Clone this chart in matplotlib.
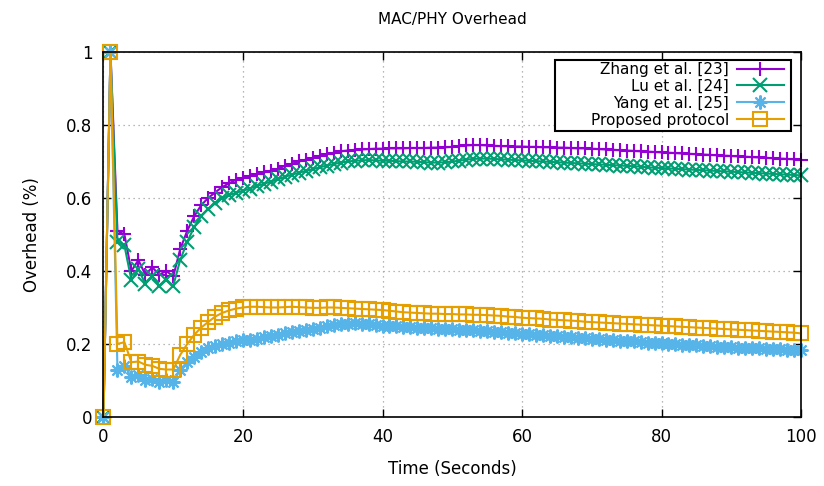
import matplotlib
matplotlib.use("Agg")
import matplotlib.pyplot as plt
from matplotlib.patches import Rectangle

# time axis, one sample per second
time_s = list(range(101))

zhang = [0, 1.0, 0.51, 0.50, 0.40, 0.43, 0.39, 0.41, 0.39, 0.40, 0.385,
         0.46, 0.51, 0.55, 0.58, 0.60, 0.615, 0.63, 0.64, 0.65, 0.655,
         0.66, 0.665, 0.67, 0.675, 0.68, 0.688, 0.694, 0.70, 0.705, 0.71,
         0.715, 0.72, 0.724, 0.728, 0.73, 0.732, 0.733, 0.734, 0.735, 0.735,
         0.736, 0.736, 0.736, 0.737, 0.737, 0.737, 0.738, 0.738, 0.739, 0.740,
         0.742, 0.744, 0.745, 0.745, 0.744, 0.743, 0.742, 0.742, 0.741, 0.741,
         0.740, 0.740, 0.739, 0.739, 0.738, 0.738, 0.737, 0.736, 0.736, 0.735,
         0.734, 0.733, 0.732, 0.731, 0.730, 0.729, 0.728, 0.727, 0.726, 0.725,
         0.724, 0.723, 0.722, 0.721, 0.720, 0.719, 0.718, 0.717, 0.716, 0.715,
         0.714, 0.713, 0.712, 0.711, 0.710, 0.709, 0.708, 0.707, 0.706, 0.705]

lu = [0, 1.0, 0.48, 0.47, 0.375, 0.405, 0.365, 0.385, 0.36, 0.375, 0.36,
      0.43, 0.48, 0.52, 0.55, 0.57, 0.585, 0.60, 0.608, 0.614, 0.62,
      0.626, 0.633, 0.639, 0.645, 0.651, 0.658, 0.664, 0.669, 0.674, 0.679,
      0.684, 0.689, 0.693, 0.697, 0.700, 0.702, 0.703, 0.704, 0.703, 0.702,
      0.702, 0.701, 0.700, 0.700, 0.699, 0.698, 0.697, 0.697, 0.698, 0.700,
      0.702, 0.705, 0.707, 0.708, 0.708, 0.707, 0.706, 0.705, 0.704, 0.703,
      0.702, 0.701, 0.700, 0.699, 0.698, 0.697, 0.696, 0.695, 0.694, 0.693,
      0.692, 0.691, 0.690, 0.689, 0.688, 0.687, 0.686, 0.684, 0.683, 0.682,
      0.681, 0.680, 0.679, 0.678, 0.677, 0.676, 0.675, 0.674, 0.673, 0.672,
      0.671, 0.670, 0.669, 0.668, 0.667, 0.666, 0.665, 0.664, 0.663, 0.662]

yang = [0, 1.0, 0.13, 0.14, 0.11, 0.115, 0.10, 0.105, 0.095, 0.10, 0.095,
        0.13, 0.15, 0.165, 0.178, 0.188, 0.195, 0.20, 0.204, 0.207, 0.21,
        0.212, 0.215, 0.218, 0.222, 0.226, 0.23, 0.233, 0.236, 0.239, 0.242,
        0.245, 0.248, 0.251, 0.254, 0.256, 0.257, 0.256, 0.254, 0.252, 0.250,
        0.249, 0.248, 0.247, 0.246, 0.245, 0.244, 0.243, 0.242, 0.241, 0.240,
        0.239, 0.238, 0.237, 0.236, 0.235, 0.234, 0.233, 0.231, 0.230, 0.228,
        0.227, 0.226, 0.224, 0.223, 0.222, 0.220, 0.219, 0.217, 0.216, 0.214,
        0.213, 0.212, 0.210, 0.209, 0.208, 0.207, 0.205, 0.204, 0.203, 0.202,
        0.201, 0.200, 0.198, 0.197, 0.196, 0.195, 0.194, 0.193, 0.192, 0.191,
        0.190, 0.189, 0.188, 0.188, 0.187, 0.186, 0.185, 0.184, 0.184, 0.183]

proposed = [0, 1.0, 0.20, 0.205, 0.15, 0.152, 0.143, 0.14, 0.132, 0.13, 0.13,
            0.17, 0.20, 0.225, 0.245, 0.26, 0.275, 0.285, 0.292, 0.297, 0.30,
            0.302, 0.302, 0.301, 0.300, 0.300, 0.301, 0.302, 0.301, 0.300, 0.299,
            0.299, 0.300, 0.300, 0.299, 0.298, 0.297, 0.296, 0.295, 0.294, 0.293,
            0.291, 0.289, 0.287, 0.286, 0.285, 0.284, 0.283, 0.283, 0.282, 0.282,
            0.281, 0.281, 0.280, 0.280, 0.279, 0.278, 0.277, 0.275, 0.274, 0.272,
            0.271, 0.270, 0.269, 0.267, 0.266, 0.265, 0.264, 0.263, 0.261, 0.260,
            0.259, 0.258, 0.257, 0.256, 0.255, 0.254, 0.253, 0.252, 0.251, 0.250,
            0.249, 0.248, 0.247, 0.246, 0.245, 0.244, 0.243, 0.242, 0.241, 0.240,
            0.239, 0.238, 0.237, 0.236, 0.235, 0.234, 0.233, 0.232, 0.231, 0.229]

labels = ["Zhang et al. [23]", "Lu et al. [24]", "Yang et al. [25]", "Proposed protocol"]
colors = ["#9400d3", "#009e73", "#56b4e9", "#e69f00"]
markers = ["+", "x", (8, 2, 0), "s"]

xticks = [0, 20, 40, 60, 80, 100]
yticks = [0, 0.2, 0.4, 0.6, 0.8, 1.0]
ytick_labels = ["0", "0.2", "0.4", "0.6", "0.8", "1"]

W, H = 824, 486
fig = plt.figure(figsize=(W / 100, H / 100), dpi=100)
ax = fig.add_axes([0.1256, 0.142, 0.8465, 0.751])

for series, lab, c, mk in zip([zhang, lu, yang, proposed], labels, colors, markers):
    face = "none" if mk == "s" else c
    ax.plot(time_s, series, color=c, lw=1.5, marker=mk, ms=10,
            mew=1.5, mfc=face, label=lab, clip_on=False)

ax.set_xlim(0, 100)
ax.set_ylim(0, 1)
ax.set_xticks(xticks)
ax.set_yticks(yticks)
ax.set_yticklabels(ytick_labels)
ax.tick_params(direction="in", length=6, width=1, top=True, right=True,
               labelsize=12, pad=8)
ax.grid(True, color="#a0a0a0", linestyle=(0, (1, 3)), linewidth=0.9)
for s in ax.spines.values():
    s.set_linewidth(1.2)

ax.set_title("MAC/PHY Overhead", fontsize=11, pad=20)
ax.set_xlabel("Time (Seconds)", fontsize=12, labelpad=10)
ax.set_ylabel("Overhead (%)", fontsize=12, labelpad=18)

# gnuplot-like key: text right-aligned, sample after it, wide box
frame = Rectangle((555 / W, 1 - 131 / H), (791 - 555) / W, (131 - 60) / H,
                  transform=fig.transFigure, facecolor="white",
                  edgecolor="black", linewidth=1.5, zorder=4, clip_on=False)
ax.add_patch(frame)

leg = ax.legend(loc="upper right", bbox_to_anchor=(784 / W, 1 - 62 / H),
                bbox_transform=fig.transFigure, borderaxespad=0,
                markerfirst=False, numpoints=1, handlelength=3.1,
                fontsize=11, frameon=False, labelspacing=0.12,
                borderpad=0, handletextpad=0.5)
for t in leg.get_texts():
    t.set_ha("right")
leg._legend_box.align = "right"
leg.set_zorder(5)

fig.savefig("out.png", dpi=100)
